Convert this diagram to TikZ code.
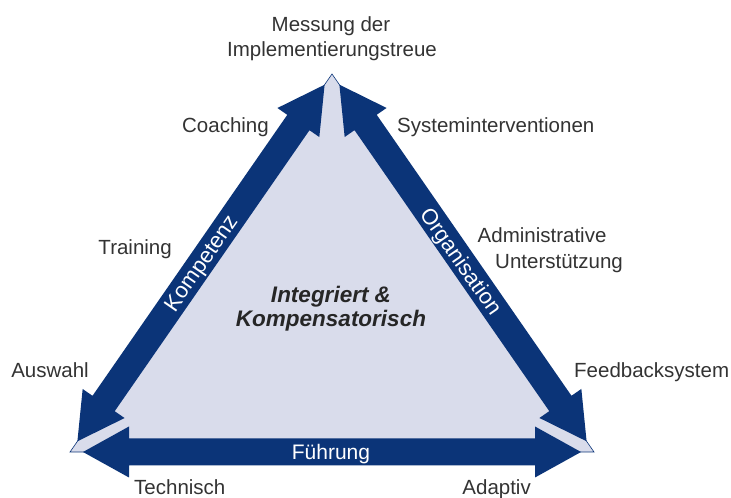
\documentclass[tikz,border=0pt]{standalone}
\usepackage{fontspec}
\setmainfont{Liberation Sans}
\usepackage{xcolor}
\usepackage{tikz}
\usetikzlibrary{calc, positioning}

\definecolor{dunkelblau}{HTML}{0B3478}
\definecolor{flieder}{HTML}{D9DCEB}
\definecolor{textgrau}{HTML}{333333}

% Doppelpfeil als Band: Startpunkt, Winkel, Laenge
\newcommand{\pfeilband}[3]{%
  \begin{scope}[shift={(#1)}, rotate=#2]
    \fill[dunkelblau] (13,0) -- (59,25.5) -- (59,13.5) -- ({#3-59},13.5) -- ({#3-59},25.5)
      -- ({#3-13},0) -- ({#3-59},-25.5) -- ({#3-59},-13.5) -- (59,-13.5) -- (59,-25.5) -- cycle;
  \end{scope}}

\begin{document}
\begin{tikzpicture}[x=1pt, y=1pt,
    etikett/.style={font=\fontsize{20.5}{24}\selectfont, text=textgrau, inner sep=0pt},
    bandtext/.style={font=\fontsize{22}{24}\selectfont, text=white, inner sep=0pt, text depth=0pt},
    mitte/.style={font=\fontsize{22.5}{26}\selectfont\bfseries\itshape, text=black!85, inner sep=0pt}]

    \useasboundingbox (0,0) rectangle (731,498);

    % --- ECKPUNKTE ---
    \coordinate (L) at (70,46);   % links unten
    \coordinate (R) at (594,46);  % rechts unten
    \coordinate (T) at (332,424); % Spitze

    % Dreiecksflaeche
    \draw[dunkelblau, line width=0.6, fill=flieder] (L) -- (T) -- (R) -- cycle;

    % --- PFEILBAENDER ---
    \pfeilband{L}{55.27}{459.9}  % Kompetenz
    \pfeilband{T}{-55.27}{459.9} % Organisation
    \pfeilband{L}{0}{524}        % Fuehrung

    \node[bandtext, rotate=55.27] (kompetenz) at (201,235) {Kompetenz};
    \node[bandtext, rotate=-55.27] (organisation) at (462,237) {Organisation};
    \node[bandtext, font=\fontsize{21}{24}\selectfont] (fuehrung) at (331,46) {Führung};

    % --- MITTE ---
    \node[mitte, anchor=base] (integriert) at (331,195) {Integriert \&};
    \node[mitte, anchor=base] (kompensatorisch) at (331,171) {Kompensatorisch};

    % --- BESCHRIFTUNGEN ---
    \node[etikett, anchor=base] (messung) at (331,466.3) {Messung der};
    \node[etikett, anchor=base] (treue) at (332,441) {Implementierungstreue};
    \node[etikett, anchor=base east] (coaching) at (269,365.5) {Coaching};
    \node[etikett, anchor=base west] (system) at (397,365.5) {Systeminterventionen};
    \node[etikett, anchor=base east] (training) at (172,243) {Training};
    \node[etikett, anchor=base west] (admin) at (477.5,255.5) {Administrative};
    \node[etikett, anchor=base west] (unterst) at (495,229.5) {Unterstützung};
    \node[etikett, anchor=base east] (auswahl) at (89,120) {Auswahl};
    \node[etikett, anchor=base west] (feedback) at (574,120) {Feedbacksystem};
    \node[etikett, anchor=base west] (technisch) at (134,3) {Technisch};
    \node[etikett, anchor=base east] (adaptiv) at (531,3) {Adaptiv};

\end{tikzpicture}
\end{document}
